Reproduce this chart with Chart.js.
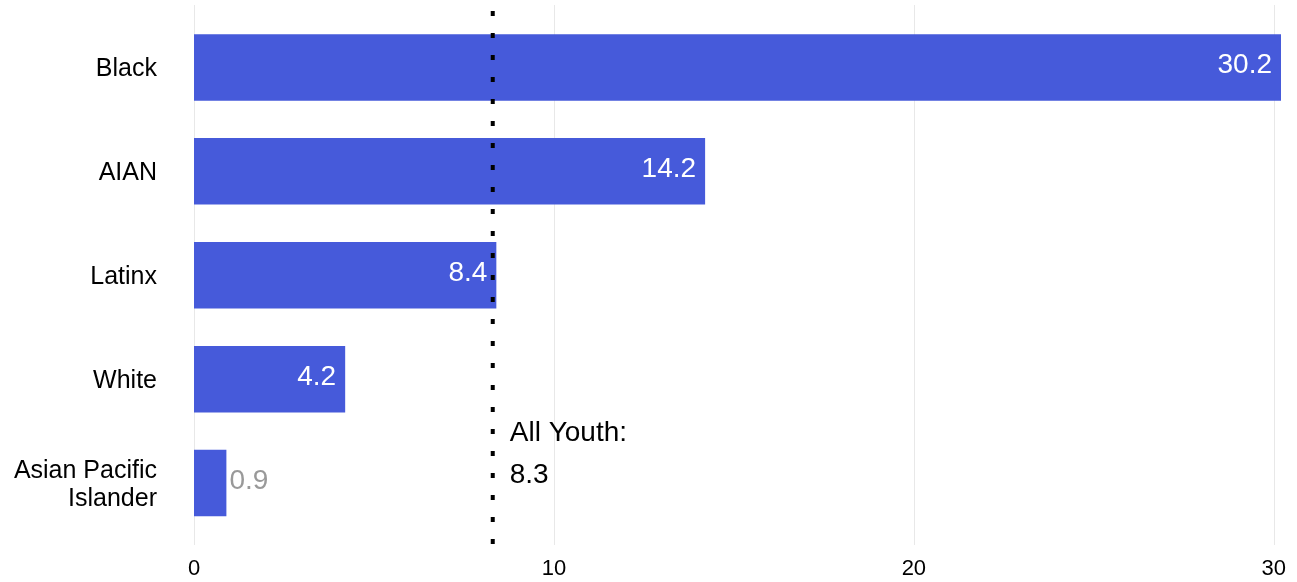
<!DOCTYPE html>
<html>
<head>
<meta charset="utf-8">
<script src="https://cdn.jsdelivr.net/npm/chart.js@4/dist/chart.umd.min.js"></script>
<style>
  html, body { margin: 0; padding: 0; background: #fff; }
  canvas { display: block; }
</style>
</head>
<body>
<canvas id="chart" width="1297" height="582"></canvas>
<script>
// Rate by race/ethnicity, with the all-youth reference value
const categories = ['Black', 'AIAN', 'Latinx', 'White', ['Asian Pacific', 'Islander']];
const rates = [30.2, 14.2, 8.4, 4.2, 0.9];
const allYouth = 8.3;
const allYouthLabel = ['All Youth:', '8.3'];
const xMax = 30.2;
const xStep = 10;

const FONT = '"Liberation Sans", Arial, sans-serif';
const BAR = '#465ada';

// Vertical grid lines that run slightly past the plot area
const gridLines = {
  id: 'gridLines',
  beforeDatasetsDraw(chart) {
    const { ctx, scales: { x } } = chart;
    ctx.save();
    ctx.strokeStyle = '#e8e8e8';
    ctx.lineWidth = 1;
    x.ticks.forEach(t => {
      const px = Math.round(x.getPixelForValue(t.value)) + 0.5;
      ctx.beginPath();
      ctx.moveTo(px, 5);
      ctx.lineTo(px, 545);
      ctx.stroke();
    });
    ctx.restore();
  }
};

// Value labels: inside the bar end when they fit, otherwise just outside
const valueLabels = {
  id: 'valueLabels',
  afterDatasetsDraw(chart) {
    const { ctx } = chart;
    const meta = chart.getDatasetMeta(0);
    ctx.save();
    ctx.font = '28px ' + FONT;
    ctx.textBaseline = 'alphabetic';
    meta.data.forEach((bar, i) => {
      const v = rates[i];
      const text = v.toFixed(1);
      const w = ctx.measureText(text).width;
      const barW = bar.x - bar.base;
      const y = bar.y + 6;
      if (barW > w + 14) {
        ctx.fillStyle = '#ffffff';
        ctx.textAlign = 'right';
        ctx.fillText(text, bar.x - 9, y);
      } else {
        ctx.fillStyle = '#999999';
        ctx.textAlign = 'left';
        ctx.fillText(text, bar.x + 3, y);
      }
    });
    ctx.restore();
  }
};

// Dotted reference line for all youth, with its caption
const referenceLine = {
  id: 'referenceLine',
  afterDatasetsDraw(chart) {
    const { ctx, scales: { x, y } } = chart;
    const px = x.getPixelForValue(allYouth);
    ctx.save();
    ctx.strokeStyle = '#000';
    ctx.lineWidth = 4;
    ctx.setLineDash([5, 17]);
    ctx.beginPath();
    ctx.moveTo(px, 11);
    ctx.lineTo(px, 545);
    ctx.stroke();
    ctx.setLineDash([]);
    ctx.fillStyle = '#000';
    ctx.font = '28px ' + FONT;
    ctx.textAlign = 'left';
    ctx.textBaseline = 'alphabetic';
    const base = (y.getPixelForValue(3) + y.getPixelForValue(4)) / 2 + 10;
    ctx.fillText(allYouthLabel[0], px + 17, base);
    ctx.fillText(allYouthLabel[1], px + 17, base + 41.5);
    ctx.restore();
  }
};

new Chart(document.getElementById('chart'), {
  type: 'bar',
  data: {
    labels: categories,
    datasets: [{
      data: rates,
      backgroundColor: BAR,
      borderWidth: 0,
      categoryPercentage: 0.8,
      barPercentage: 0.8
    }]
  },
  options: {
    indexAxis: 'y',
    responsive: false,
    animation: false,
    devicePixelRatio: 1,
    layout: { padding: { top: 15.5, right: 16, bottom: 0, left: 0 } },
    plugins: {
      legend: { display: false },
      tooltip: { enabled: false }
    },
    scales: {
      x: {
        type: 'linear',
        min: 0,
        max: xMax,
        grid: { display: false },
        border: { display: false },
        ticks: {
          stepSize: xStep,
          includeBounds: false,
          color: '#000',
          padding: 13,
          font: { family: FONT, size: 22 }
        },
        afterFit(s) {
          s.height = 47;
          s.paddingLeft = 0; s.paddingRight = 0;
        }
      },
      y: {
        grid: { display: false },
        border: { display: false },
        ticks: {
          color: '#000',
          padding: 29,
          labelOffset: 2,
          font: { family: FONT, size: 25, lineHeight: 1.12 }
        },
        afterFit(s) {
          s.width = 194;
          s.paddingTop = 0; s.paddingBottom = 0;
        }
      }
    }
  },
  plugins: [gridLines, valueLabels, referenceLine]
});
</script>
</body>
</html>
